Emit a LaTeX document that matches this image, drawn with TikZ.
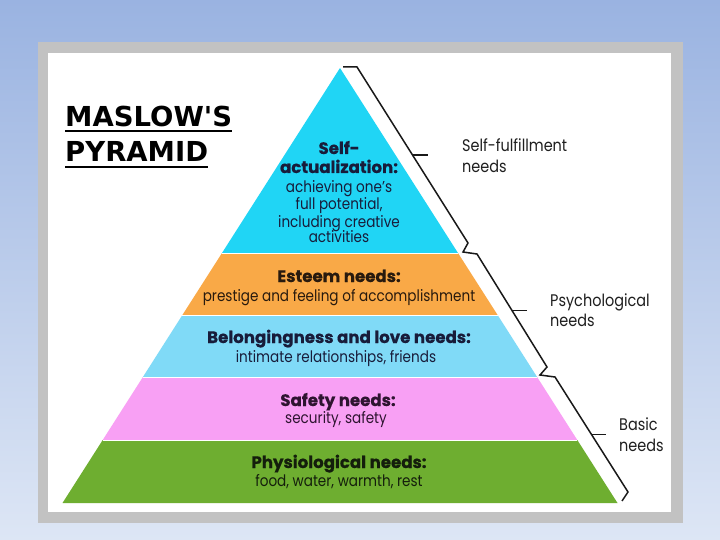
\documentclass[tikz,border=0pt]{standalone}
\usepackage{fontspec}
\setmainfont{Poppins}[FakeStretch=0.86, BoldFeatures={FakeStretch=1.0, FakeBold=0.5}]
\newfontfamily\titlefont{DejaVu Sans}
\usetikzlibrary{calc}
\definecolor{bgtop}{RGB}{154,179,225}
\definecolor{bgbot}{RGB}{221,230,245}
\definecolor{framegray}{RGB}{194,194,194}
\definecolor{lvlA}{RGB}{32,213,245}
\definecolor{lvlB}{RGB}{249,169,71}
\definecolor{lvlC}{RGB}{128,218,247}
\definecolor{lvlD}{RGB}{248,160,244}
\definecolor{lvlE}{RGB}{110,174,48}
\definecolor{inkA}{RGB}{24,28,58}
\definecolor{inkB}{RGB}{40,26,14}
\definecolor{inkD}{RGB}{46,20,48}
\definecolor{inkE}{RGB}{20,30,12}
\begin{document}
\begin{tikzpicture}[x=1pt,y=-1pt,
  head/.style={font=\fontsize{16.6}{17}\selectfont\bfseries, inner sep=0pt, anchor=base},
  desc/.style={font=\fontsize{15.8}{16}\selectfont, inner sep=0pt, anchor=base},
  side/.style={font=\fontsize{16.8}{17}\selectfont, text=black!88, inner sep=0pt, anchor=base west},
  ttl/.style={font=\titlefont\fontsize{27.5}{28}\selectfont\bfseries, inner sep=0pt, anchor=base west},
  ul/.style={line width=2.4pt},
  bracestyle/.style={line width=1.5pt, black!90, line join=miter},
  sep/.style={white, line width=1pt}
]
\useasboundingbox (0,0) rectangle (720,540);
\fill[top color=bgtop, bottom color=bgbot] (0,0) rectangle (720,540);
\fill[framegray] (38,42) rectangle (683,523);
\fill[white] (48,53) rectangle (671,512);

% pyramid levels
\coordinate (apex) at (340,68);
\coordinate (l1) at (222,253);   \coordinate (r1) at (458,253);
\coordinate (l2) at (182.4,315); \coordinate (r2) at (497.6,315);
\coordinate (l3) at (142.9,377); \coordinate (r3) at (537.1,377);
\coordinate (l4) at (102.7,440); \coordinate (r4) at (577.3,440);
\coordinate (l5) at (62.5,503);  \coordinate (r5) at (617.5,503);
\fill[lvlA] (apex) -- (r1) -- (l1) -- cycle;
\fill[lvlB] (l1) -- (r1) -- (r2) -- (l2) -- cycle;
\fill[lvlC] (l2) -- (r2) -- (r3) -- (l3) -- cycle;
\fill[lvlD] (l3) -- (r3) -- (r4) -- (l4) -- cycle;
\fill[lvlE] (l4) -- (r4) -- (r5) -- (l5) -- cycle;
\draw[sep] (l1) -- (r1);
\draw[sep] (l2) -- (r2);
\draw[sep] (l3) -- (r3);
\draw[sep] (l4) -- (r4);

% title
\node[ttl] (tA) at (65,127) {MASLOW'S};
\node[ttl] (tB) at (65,162) {PYRAMID};
\draw[ul] ($(tA.base west)+(0,4)$) -- ($(tA.base east)+(0,4)$);
\draw[ul] ($(tB.base west)+(0,5)$) -- ($(tB.base east)+(0,5)$);

% level texts
\node[head, text=inkA] (sa1) at (339,154) {Self-};
\node[head, text=inkA] (sa2) at (339,173) {actualization:};
\node[desc, text=inkA] (sa3) at (339,193) {achieving one’s};
\node[desc, text=inkA] (sa4) at (339,210) {full potential,};
\node[desc, text=inkA] (sa5) at (339,227) {including creative};
\node[desc, text=inkA] (sa6) at (339,243) {activities};

\node[head, text=inkB] (es1) at (339,282) {Esteem needs:};
\node[desc, text=inkB] (es2) at (339,301) {prestige and feeling of accomplishment};

\node[head, text=inkA] (bl1) at (339,343) {Belongingness and love needs:};
\node[desc, text=inkA] (bl2) at (336,362) {intimate relationships, friends};

\node[head, text=inkD] (sf1) at (338,406) {Safety needs:};
\node[desc, text=inkD] (sf2) at (336,423) {security, safety};

\node[head, text=inkE] (ph1) at (339,468) {Physiological needs:};
\node[desc, text=inkE] (ph2) at (339,486) {food, water, warmth, rest};

% braces
\coordinate (b1t) at (343,67);  \coordinate (b1s) at (357,67);  \coordinate (b1e) at (468,243); \coordinate (b1h) at (463,252);
\coordinate (b2s) at (477,254); \coordinate (b2e) at (547,367); \coordinate (b2h) at (540,375);
\coordinate (b3s) at (555,377); \coordinate (b3e) at (628,492); \coordinate (b3h) at (622,501);
\draw[bracestyle] (b1t) -- (b1s) -- (b1e) -- (b1h) -- (b2s) -- (b2e) -- (b2h) -- (b3s) -- (b3e) -- (b3h);
\draw[bracestyle] ($(b1s)!0.5!(b1e)$) -- ++(15,0);
\draw[bracestyle] ($(b2s)!0.5!(b2e)$) -- ++(15,0);
\draw[bracestyle] ($(b3s)!0.5!(b3e)$) -- ++(14,0);

% side labels
\node[side] (sfA) at (462,152) {Self-fulfillment};
\node[side] (sfB) at (462,172.5) {needs};
\node[side] (psA) at (550,306) {Psychological};
\node[side] (psB) at (550,326.5) {needs};
\node[side] (baA) at (619,430) {Basic};
\node[side] (baB) at (619,451) {needs};
\end{tikzpicture}
\end{document}
